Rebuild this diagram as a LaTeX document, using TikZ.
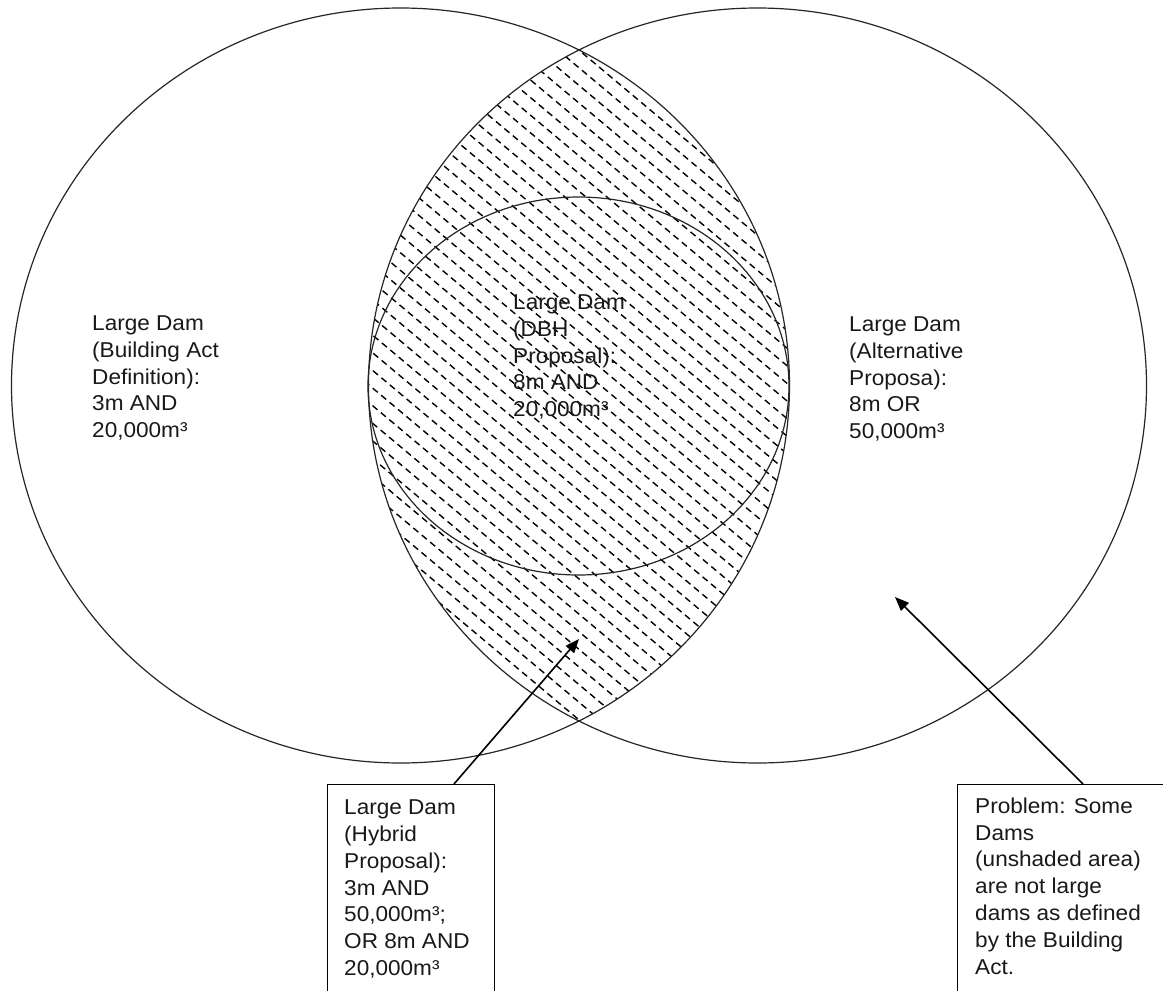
\documentclass[tikz,border=0pt]{standalone}
\usepackage{fontspec}
\setmainfont{Liberation Sans}[FakeStretch=1.05]
\usetikzlibrary{arrows.meta}
\begin{document}
\begin{tikzpicture}[x=1pt,y=-1pt,
  ring/.style={draw=black!85, line width=1.2pt},
  hatchline/.style={draw=black, line width=1.4pt, dash pattern=on 6.5pt off 4.5pt},
  txt/.style={anchor=north west, inner sep=0pt, align=left, font=\fontsize{21.5}{26.8}\selectfont, text=black!90},
  framebox/.style={draw=black, line width=1.2pt, anchor=north west, inner sep=0pt},
  pointer/.style={draw=black, line width=1.6pt, -{Triangle[length=14pt,width=11pt]}}]
\clip (0,0) rectangle (1163,991);
\fill[white] (0,0) rectangle (1163,991);
% hatching of the lens
\begin{scope}
  \clip (400.5,385.5) ellipse [x radius=389pt, y radius=377.5pt];
  \clip (757.5,385.5) ellipse [x radius=389pt, y radius=377.5pt];
  \foreach \i in {-23,...,23}{
    \draw[hatchline] ({579 - \i*13.5*sin(40) - 420*cos(40)}, {385 + \i*13.5*cos(40) - 420*sin(40)})
      -- ({579 - \i*13.5*sin(40) + 420*cos(40)}, {385 + \i*13.5*cos(40) + 420*sin(40)});
  }
\end{scope}
% sets
\draw[ring] (400.5,385.5) ellipse [x radius=389pt, y radius=377.5pt];
\draw[ring] (757.5,385.5) ellipse [x radius=389pt, y radius=377.5pt];
\draw[ring] (578.5,386) ellipse [x radius=210.5pt, y radius=189pt];
% labels
\node[txt] (lbact) at (92,315.6) {Large Dam\\(Building Act\\Definition):\\3m AND\\20,000m³};
\node[txt] (ldbh) at (513,294.6) {Large Dam\\(DBH\\Proposal):\\8m AND\\20,000m³};
\node[txt] (lalt) at (849,316.6) {Large Dam\\(Alternative\\Proposa):\\8m OR\\50,000m³};
% boxes
\node[framebox, minimum width=167pt, minimum height=240pt] (hybox) at (327,784) {};
\node[txt] (hytext) at (344,799.6) {Large Dam\\(Hybrid\\Proposal):\\3m AND\\50,000m³;\\OR 8m AND\\20,000m³};
\node[framebox, minimum width=240pt, minimum height=240pt] (probox) at (957,784) {};
\node[txt] (protext) at (975,797.5) {Problem: Some\\Dams\\(unshaded area)\\are not large\\dams as defined\\by the Building\\Act.};
% pointers
\coordinate (hytip) at (579,639);
\coordinate (protip) at (895,597);
\draw[pointer] ([xshift=127pt]hybox.north west) -- (hytip);
\draw[pointer] ([xshift=126pt]probox.north west) -- (protip);
\end{tikzpicture}
\end{document}
